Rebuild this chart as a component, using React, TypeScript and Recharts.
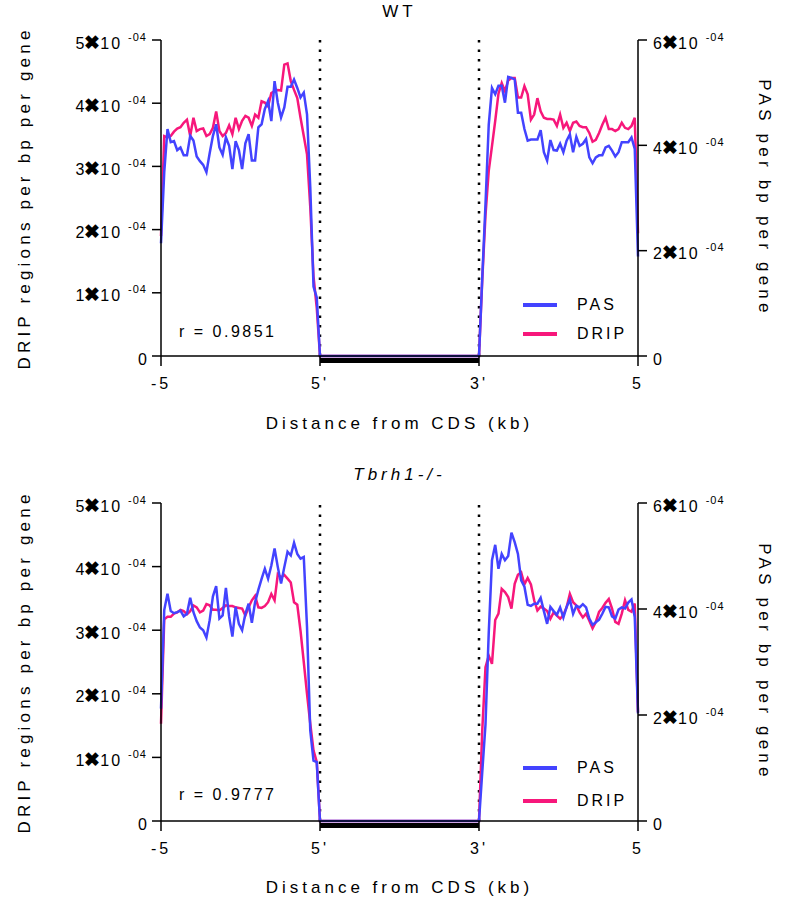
import React from "react";
import { LineChart, Line, XAxis, YAxis, ReferenceLine, Legend } from "recharts";

// x positions: 0 = -5 kb, 1 = 5' end of CDS, 2 = 3' end of CDS, 3 = +5 kb
const X_TICKS = [0, 1, 2, 3];
const X_LABELS = ["-5", "5'", "3'", "5"];
const DRIP_TICKS = [0, 1, 2, 3, 4, 5]; // x 1e-4
const PAS_TICKS = [0, 2, 4, 6]; // x 1e-4

// values in units of 1e-4, 50 bins upstream (ending at 5') and 50 downstream (starting at 3')
const dripTopUp = [1.9, 3.48, 3.46, 3.48, 3.55, 3.6, 3.62, 3.69, 3.74, 3.48, 3.77, 3.56, 3.59, 3.6, 3.48, 3.51, 3.61, 3.87, 3.56, 3.48, 3.53, 3.65, 3.51, 3.77, 3.59, 3.72, 3.8, 3.77, 3.64, 3.82, 3.77, 4.03, 4.01, 3.95, 4.16, 4.19, 4.21, 4.2, 4.61, 4.63, 4.35, 4.21, 4.08, 3.77, 3.48, 3.19, 2.36, 1.26, 0.76, 0];
const pasTopUp = [2.14, 3.49, 4.31, 4.06, 4.08, 3.91, 3.96, 3.81, 3.81, 4.18, 4.09, 3.79, 3.7, 3.63, 3.49, 3.85, 4.18, 4.4, 3.96, 3.82, 4.15, 3.99, 3.55, 4.08, 3.91, 3.55, 4.04, 4.21, 3.71, 3.71, 4.34, 4.4, 4.69, 4.84, 4.46, 5.22, 4.81, 4.53, 4.72, 5.11, 5.11, 5.25, 5.09, 4.91, 5.0, 4.59, 3.21, 1.32, 1.11, 0];
const dripTopDown = [0, 1.2, 2.23, 2.93, 3.32, 3.72, 4.15, 4.32, 4.19, 4.36, 4.4, 4.4, 4.09, 4.09, 4.27, 4.14, 3.74, 3.82, 4.08, 3.87, 3.77, 3.75, 3.75, 3.74, 3.64, 3.82, 3.61, 3.69, 3.56, 3.69, 3.71, 3.64, 3.62, 3.62, 3.53, 3.39, 3.42, 3.53, 3.66, 3.77, 3.59, 3.59, 3.56, 3.59, 3.69, 3.61, 3.59, 3.64, 3.77, 1.94];
const pasTopDown = [0, 1.48, 2.88, 4.39, 5.09, 4.97, 5.13, 5.13, 4.81, 5.3, 5.28, 5.25, 4.62, 4.62, 4.31, 4.09, 4.11, 4.11, 4.11, 4.29, 3.87, 3.71, 4.1, 3.91, 3.9, 4.03, 3.87, 4.09, 4.21, 3.87, 4.16, 3.99, 4.03, 4.12, 3.77, 3.66, 3.77, 3.81, 3.81, 3.96, 3.99, 3.9, 3.79, 3.87, 4.06, 4.06, 4.06, 4.15, 3.93, 1.89];

const dripBotUp = [1.53, 3.17, 3.21, 3.21, 3.26, 3.28, 3.32, 3.3, 3.25, 3.3, 3.39, 3.36, 3.28, 3.31, 3.41, 3.39, 3.32, 3.32, 3.31, 3.35, 3.39, 3.38, 3.38, 3.36, 3.35, 3.34, 3.23, 3.36, 3.47, 3.54, 3.36, 3.35, 3.38, 3.44, 3.57, 3.47, 3.88, 3.83, 3.87, 3.81, 3.75, 3.44, 3.4, 2.99, 2.5, 2.0, 1.53, 1.11, 0.93, 0];
const pasBotUp = [2.12, 3.98, 4.29, 3.96, 3.92, 3.94, 3.97, 3.86, 3.91, 4.21, 3.94, 3.77, 3.65, 3.6, 3.46, 3.79, 4.24, 4.43, 3.82, 3.88, 4.4, 3.85, 3.48, 4.04, 3.72, 3.6, 3.91, 4.1, 3.74, 4.13, 4.36, 4.57, 4.76, 4.57, 4.82, 5.14, 4.79, 4.48, 4.79, 5.08, 5.01, 5.25, 5.04, 4.95, 4.98, 3.66, 1.71, 1.14, 1.11, 0];
const dripBotDown = [0, 1.42, 2.42, 2.6, 2.47, 3.16, 3.26, 3.65, 3.6, 3.52, 3.34, 3.73, 3.87, 3.91, 3.72, 3.82, 3.72, 3.47, 3.31, 3.37, 3.34, 3.3, 3.18, 3.28, 3.23, 3.18, 3.24, 3.36, 3.57, 3.44, 3.39, 3.28, 3.2, 3.26, 3.15, 3.03, 3.13, 3.29, 3.35, 3.43, 3.49, 3.34, 3.13, 3.1, 3.26, 3.47, 3.32, 3.29, 3.42, 1.71];
const pasBotDown = [0, 0.92, 1.82, 3.55, 4.92, 5.21, 4.76, 5.04, 4.92, 5.0, 5.44, 5.26, 5.04, 4.54, 4.42, 4.08, 4.06, 4.1, 4.1, 4.21, 3.96, 3.72, 4.04, 3.96, 3.89, 4.03, 3.84, 4.04, 4.18, 3.91, 4.06, 4.03, 4.09, 4.03, 3.82, 3.7, 3.75, 3.8, 3.91, 4.04, 4.03, 3.86, 3.82, 3.99, 4.03, 4.01, 4.12, 4.18, 3.85, 2.03];

const PAS_COLOR = "#4343ff";
const DRIP_COLOR = "#f7177b";
const FONT = "'Liberation Sans', Arial, sans-serif";

function buildRows(dripUp: number[], pasUp: number[], dripDown: number[], pasDown: number[]) {
  const rows: { x: number; drip: number; pas: number }[] = [];
  const n = dripUp.length;
  for (let i = 0; i < n; i++) rows.push({ x: i / (n - 1), drip: dripUp[i], pas: pasUp[i] });
  const m = dripDown.length;
  for (let i = 0; i < m; i++) rows.push({ x: 2 + i / (m - 1), drip: dripDown[i], pas: pasDown[i] });
  return rows;
}

const topRows = buildRows(dripTopUp, pasTopUp, dripTopDown, pasTopDown);
const botRows = buildRows(dripBotUp, pasBotUp, dripBotDown, pasBotDown);

function SciTick(props: any) {
  const { x, y, payload, anchor } = props;
  const v = payload.value;
  if (v === 0) {
    return (
      <text x={x} y={y} dy={8.5} textAnchor={anchor} fontSize={16} fill="#000">
        0
      </text>
    );
  }
  return (
    <text x={x} y={y} dy={8.5} textAnchor={anchor} fontSize={16} fill="#000">
      <tspan>{v}</tspan>
      <tspan fontSize={19} fontWeight="bold">✖</tspan>
      <tspan letterSpacing={2}>10</tspan>
      <tspan dx={6} dy={-8} fontSize={11} letterSpacing={1}>
        -04
      </tspan>
    </text>
  );
}

function LegendBox(props: any) {
  const { payload, gap } = props;
  const items = [...(payload || [])].sort((a: any) => (a.value === "PAS" ? -1 : 1));
  return (
    <div style={{ fontFamily: FONT, textAlign: "left" }}>
      {items.map((it: any) => (
        <div key={it.value} style={{ display: "flex", alignItems: "center", height: gap }}>
          <span style={{ width: 34, height: 4, background: it.color, marginRight: 20 }} />
          <span style={{ fontSize: 16, letterSpacing: 3, color: "#000" }}>{it.value}</span>
        </div>
      ))}
    </div>
  );
}

interface PanelProps {
  top: number;
  height: number;
  plotH: number;
  title: string;
  italic?: boolean;
  r: string;
  rows: { x: number; drip: number; pas: number }[];
  xLabelOffset: number;
  legendTop: number;
  legendGap: number;
}

function Panel({ top, height, plotH, title, italic, r, rows, xLabelOffset, legendTop, legendGap }: PanelProps) {
  const axisStyle = { stroke: "#000", strokeWidth: 1.5 };
  return (
    <div style={{ position: "absolute", top, left: 0, width: 794, height }}>
      <div
        style={{
          position: "absolute",
          left: 161,
          width: 477,
          top: 2,
          lineHeight: "20px",
          textAlign: "center",
          fontSize: 17,
          letterSpacing: 4,
          fontStyle: italic ? "italic" : "normal",
        }}
      >
        {title}
      </div>
      <LineChart width={794} height={height} data={rows} margin={{ top: 40, right: 0, bottom: 0, left: 0 }}>
        <XAxis
          dataKey="x"
          type="number"
          domain={[0, 3]}
          ticks={X_TICKS}
          tickFormatter={(v: number) => X_LABELS[v]}
          height={height - 40 - plotH}
          axisLine={axisStyle}
          tickLine={axisStyle}
          tickSize={10}
          tickMargin={12}
          tick={{ fontSize: 16, fill: "#000", letterSpacing: 3 }}
          label={{
            value: "Distance from CDS (kb)",
            position: "insideBottom",
            offset: xLabelOffset,
            fontSize: 17,
            fill: "#000",
            style: { letterSpacing: 4 },
          }}
        />
        <YAxis
          yAxisId="drip"
          orientation="left"
          width={161}
          domain={[0, 5]}
          ticks={DRIP_TICKS}
          axisLine={axisStyle}
          tickLine={axisStyle}
          tickSize={9}
          tickMargin={5}
          tick={<SciTick anchor="end" />}
          label={{
            value: "DRIP regions per bp per gene",
            angle: -90,
            position: "insideLeft",
            offset: 24,
            fontSize: 17,
            fill: "#000",
            style: { textAnchor: "middle", letterSpacing: 4.2 },
          }}
        />
        <YAxis
          yAxisId="pas"
          orientation="right"
          width={156}
          domain={[0, 6]}
          ticks={PAS_TICKS}
          axisLine={axisStyle}
          tickLine={axisStyle}
          tickSize={9}
          tickMargin={6}
          tick={<SciTick anchor="start" />}
          label={{
            value: "PAS per bp per gene",
            angle: 90,
            position: "insideRight",
            offset: 29,
            fontSize: 17,
            fill: "#000",
            style: { textAnchor: "middle", letterSpacing: 4.2 },
          }}
        />
        <ReferenceLine yAxisId="drip" x={1} stroke="#000" strokeWidth={2.5} strokeDasharray="2.5 7" />
        <ReferenceLine yAxisId="drip" x={2} stroke="#000" strokeWidth={2.5} strokeDasharray="2.5 7" />
        <ReferenceLine
          yAxisId="drip"
          segment={[
            { x: 1, y: -0.07 },
            { x: 2, y: -0.07 },
          ]}
          stroke="#000"
          strokeWidth={5}
          ifOverflow="visible"
        />
        <Line
          yAxisId="drip"
          type="linear"
          dataKey="drip"
          name="DRIP"
          stroke={DRIP_COLOR}
          strokeWidth={2.5}
          dot={false}
          isAnimationActive={false}
        />
        <Line
          yAxisId="pas"
          type="linear"
          dataKey="pas"
          name="PAS"
          stroke={PAS_COLOR}
          strokeWidth={2.5}
          dot={false}
          isAnimationActive={false}
        />
        <Legend
          layout="horizontal"
          verticalAlign="middle"
          align="center"
          wrapperStyle={{ top: legendTop, left: 523, width: 120 }}
          content={<LegendBox gap={legendGap} />}
        />
      </LineChart>
      <div style={{ position: "absolute", left: 179, top: 322, lineHeight: "20px", fontSize: 16, letterSpacing: 2.5 }}>
        {r}
      </div>
    </div>
  );
}

export default function App() {
  return (
    <div
      style={{
        position: "absolute",
        top: 0,
        left: 0,
        width: 794,
        height: 899,
        overflow: "hidden",
        background: "#fff",
        fontFamily: FONT,
        color: "#000",
      }}
    >
      <Panel
        top={0}
        height={440}
        plotH={316}
        title="WT"
        r="r = 0.9851"
        rows={topRows}
        xLabelOffset={11.5}
        legendTop={290}
        legendGap={29}
      />
      <Panel
        top={463}
        height={436}
        plotH={318}
        title="Tbrh1-/-"
        italic
        r="r = 0.9777"
        rows={botRows}
        xLabelOffset={6.5}
        legendTop={288}
        legendGap={33}
      />
    </div>
  );
}
